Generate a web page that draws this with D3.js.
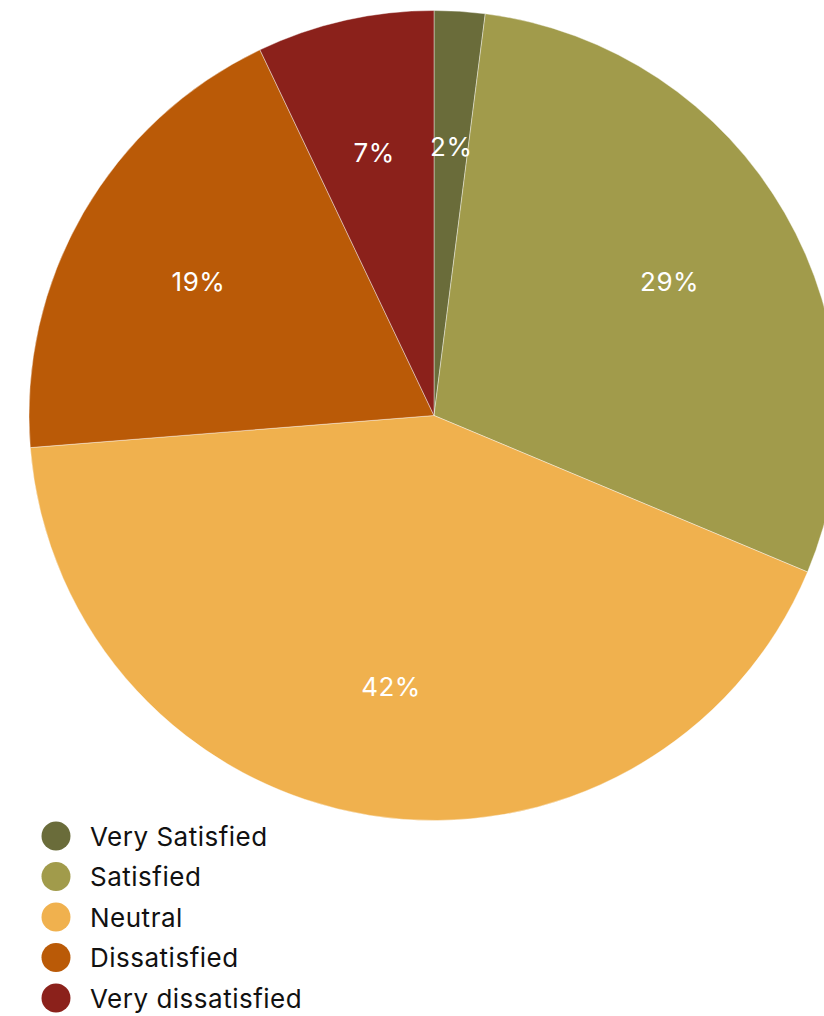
<!DOCTYPE html>
<html>
<head>
<meta charset="utf-8">
<script src="https://cdn.jsdelivr.net/npm/d3@7"></script>
<style>
  html, body { margin: 0; padding: 0; background: #fff; }
  svg { display: block; }
</style>
</head>
<body>
<div id="chart"></div>
<script>
// Satisfaction survey responses (percent)
const categories = ["Very Satisfied", "Satisfied", "Neutral", "Dissatisfied", "Very dissatisfied"];
const values = [2, 29, 42, 19, 7];
const colors = ["#6a6c3a", "#a19b4b", "#f0b14e", "#ba5a07", "#8b211b"];

const width = 824, height = 1016;
const cx = 434, cy = 415.5, radius = 405;
const labelRadius = 272;

const svg = d3.select("#chart").append("svg")
  .attr("width", width)
  .attr("height", height);

const color = d3.scaleOrdinal().domain(categories).range(colors);

const pie = d3.pie().sort(null).value(d => d.value);
const data = categories.map((c, i) => ({ name: c, value: values[i] }));
const arcs = pie(data);

const arc = d3.arc().innerRadius(0).outerRadius(radius);
const labelArc = d3.arc().innerRadius(labelRadius).outerRadius(labelRadius);

const g = svg.append("g").attr("transform", `translate(${cx},${cy})`);

g.selectAll("path.slice")
  .data(arcs)
  .join("path")
  .attr("class", "slice")
  .attr("d", arc)
  .attr("fill", d => color(d.data.name))
  .attr("stroke", "rgba(255,255,255,0.5)")
  .attr("stroke-width", 0.8);

g.selectAll("text.pct")
  .data(arcs)
  .join("text")
  .attr("class", "pct")
  .attr("transform", d => `translate(${labelArc.centroid(d)})`)
  .attr("dy", 2)
  .attr("text-anchor", "middle")
  .attr("dominant-baseline", "central")
  .attr("fill", "#fff")
  .attr("font-family", "Inter, 'Liberation Sans', sans-serif")
  .attr("font-size", 26)
  .attr("letter-spacing", 0.5)
  .text(d => d.data.value + "%");

// Legend
const legend = svg.append("g").attr("transform", "translate(56,836)");
const rowH = 40.5;
const item = legend.selectAll("g.item")
  .data(categories)
  .join("g")
  .attr("class", "item")
  .attr("transform", (d, i) => `translate(0,${i * rowH})`);

item.append("circle")
  .attr("r", 14.5)
  .attr("fill", d => color(d));

item.append("text")
  .attr("x", 34)
  .attr("dominant-baseline", "central")
  .attr("fill", "#111")
  .attr("font-family", "Inter, 'Liberation Sans', sans-serif")
  .attr("font-size", 26)
  .attr("letter-spacing", 0.5)
  .text(d => d);
</script>
</body>
</html>
